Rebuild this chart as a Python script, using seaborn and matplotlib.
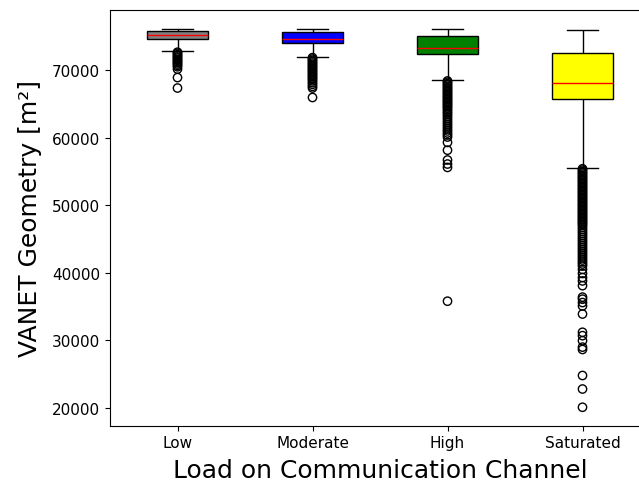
import numpy as np
import pandas as pd
import matplotlib
matplotlib.use("Agg")
import matplotlib.pyplot as plt
import seaborn as sns

categories = ["Low", "Moderate", "High", "Saturated"]
box_colors = ["#808080", "#0000ff", "#008000", "#ffff00"]

# box summary per category: lower whisker, Q1, median, Q3, upper whisker
whisker_low = [72800, 71950, 68550, 55550]
q1 = [74600, 73950, 72400, 65800]
median = [75200, 74650, 73250, 68050]
q3 = [75850, 75600, 75050, 72600]
whisker_high = [76150, 76150, 76100, 75950]

out_low = [72650, 72500, 72300, 72150, 71950, 71800, 71600, 71450, 71250, 71100,
           70900, 70700, 70500, 70150, 68900, 67350]
out_moderate = [71850, 71650, 71450, 71250, 71050, 70850, 70650, 70450, 70250, 70050,
                69850, 69650, 69450, 69250, 69050, 68850, 68650, 68400, 68150, 67900,
                67600, 67350, 65950]
out_high = [68400, 68200, 68000, 67800, 67600, 67400, 67200, 67000, 66800, 66600,
            66400, 66200, 66000, 65800, 65600, 65400, 65200, 65000, 64800, 64600,
            64400, 64150, 63900, 63650, 63400, 63100, 62800, 62500, 62200, 61900,
            61600, 61300, 61000, 60700, 60400, 60100, 59300, 58150, 56700, 56100,
            55600, 35800]
out_saturated = [55400, 55200, 55000, 54800, 54600, 54400, 54200, 54000, 53800, 53600,
                 53400, 53200, 53000, 52800, 52600, 52400, 52200, 52000, 51800, 51600,
                 51400, 51200, 51000, 50800, 50600, 50400, 50200, 50000, 49800, 49600,
                 49400, 49200, 49000, 48800, 48600, 48400, 48200, 48000, 47800, 47600,
                 47400, 47200, 47000, 46700, 46400, 46100, 45800, 45500, 45200, 44900,
                 44600, 44300, 44000, 43700, 43400, 43100, 42800, 42500, 42200, 41900,
                 41600, 41300, 41000, 40500, 39900, 39300, 38800, 38100, 36400, 36100,
                 35600, 35100, 33900, 31200, 30700, 29950, 29000, 28650, 24800, 22800,
                 20100]
outliers = [out_low, out_moderate, out_high, out_saturated]

# build long tables
box_rows = []
for c, a, b, m, d, e in zip(categories, whisker_low, q1, median, q3, whisker_high):
    for v in (a, b, m, d, e):
        box_rows.append({"load": c, "value": v})
box_df = pd.DataFrame(box_rows)

out_rows = []
for c, vals in zip(categories, outliers):
    for v in vals:
        out_rows.append({"load": c, "value": v})
out_df = pd.DataFrame(out_rows)

fig = plt.figure(figsize=(6.39, 4.85), dpi=100)
ax = fig.add_axes([110 / 639, 58.5 / 485, 540 / 639, 415.5 / 485])

sns.boxplot(data=box_df, x="load", y="value", hue="load", order=categories,
            hue_order=categories, palette=box_colors, saturation=1, width=0.45,
            whis=(0, 100), showfliers=False, linecolor="black", linewidth=1,
            medianprops={"color": "red", "linewidth": 1}, legend=False, ax=ax)

n_before = len(ax.collections)
sns.stripplot(data=out_df, x="load", y="value", order=categories, jitter=False,
              size=6, marker="o", color="black", edgecolor="black", linewidth=1,
              ax=ax, zorder=3)
for coll in ax.collections[n_before:]:
    coll.set_facecolor("none")
    coll.set_edgecolor("black")
    coll.set_linewidth(1)

ax.set_xlim(-0.5, 3.5)
ax.set_ylim(17400, 78900)
ax.set_yticks([20000, 30000, 40000, 50000, 60000, 70000])
ax.tick_params(labelsize=11)
ax.set_xlabel("Load on Communication Channel", fontsize=18, labelpad=5.5)
ax.set_ylabel("VANET Geometry [m²]", fontsize=18, labelpad=7.5)
for s in ax.spines.values():
    s.set_visible(True)
    s.set_color("black")
ax.spines["right"].set_visible(False)

fig.savefig("out.png", dpi=100)
